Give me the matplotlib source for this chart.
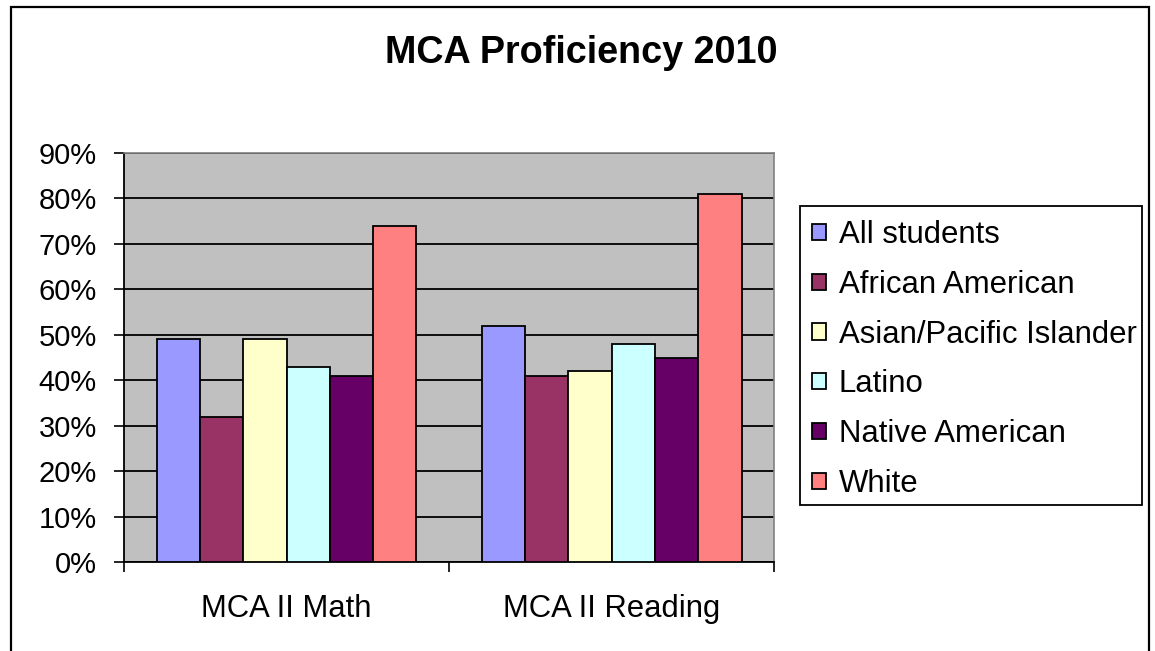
import matplotlib
matplotlib.use("Agg")
import matplotlib.pyplot as plt
from matplotlib.patches import Rectangle
import numpy as np

plt.rcParams['font.family'] = ['Liberation Sans', 'DejaVu Sans']

# data
tests = ["MCA II Math", "MCA II Reading"]
groups = ["All students", "African American", "Asian/Pacific Islander",
          "Latino", "Native American", "White"]
math_pct = [49, 32, 49, 43, 41, 74]
reading_pct = [52, 41, 42, 48, 45, 81]
colors = ["#9999FF", "#993366", "#FFFFCC", "#CCFFFF", "#660066", "#FF8080"]
yticks = [0, 10, 20, 30, 40, 50, 60, 70, 80, 90]

W, H = 1155, 651
fig = plt.figure(figsize=(W / 100, H / 100), dpi=100)
ax = fig.add_axes([124 / W, 1 - 562 / H, 650 / W, 409 / H])
ax.set_facecolor("#C0C0C0")

x = np.arange(len(tests))
bw = 0.8 / len(groups)
for i, g in enumerate(groups):
    vals = [math_pct[i], reading_pct[i]]
    ax.bar(x - 0.4 + bw * (i + 0.5), vals, width=bw, color=colors[i],
           edgecolor="black", linewidth=1.3, label=g, zorder=3)

ax.set_xlim(-0.5, 1.5)
ax.set_ylim(0, 90)
ax.set_yticks(yticks)
ax.set_yticklabels([f"{t}%" for t in yticks], fontsize=21)
ax.yaxis.grid(True, color="black", linewidth=1.3, zorder=1)
ax.set_axisbelow(True)
ax.tick_params(axis="y", direction="out", length=7.5, width=1.2, pad=12)

ax.set_xticks(x)
ax.set_xticklabels(tests, fontsize=22.3)
ax.set_xticks([-0.5, 0.5, 1.5], minor=True)
ax.tick_params(axis="x", which="major", length=0, pad=23)
ax.tick_params(axis="x", which="minor", direction="out", length=7.5, width=1.2)

for s in ["top", "right"]:
    ax.spines[s].set_color("#808080")
    ax.spines[s].set_linewidth(1.2)
for s in ["left", "bottom"]:
    ax.spines[s].set_color("black")
    ax.spines[s].set_linewidth(1.3)

fig.text(581 / W, 1 - 53 / H, "MCA Proficiency 2010", fontsize=27.2,
         fontweight="bold", ha="center", va="center")

# legend entries without frame, frame drawn separately (tighter right side)
leg = fig.legend(loc="upper left", bbox_to_anchor=(800 / W, 1 - 208 / H),
                 fontsize=22.4, frameon=False,
                 borderaxespad=0, borderpad=0.39, handlelength=0.43,
                 handleheight=0.43, handletextpad=0.42, labelspacing=0.635)
fig.patches.append(Rectangle((800 / W, 1 - 505 / H), 342 / W, 299 / H,
                             transform=fig.transFigure, fill=False,
                             edgecolor="black", linewidth=1.3))

# outer chart border
fig.patches.append(Rectangle((11 / W, -0.05), (1149 - 11) / W, 1.05 - 7 / H,
                             transform=fig.transFigure, fill=False,
                             edgecolor="black", linewidth=1.6))

fig.savefig("out.png", dpi=100, facecolor="white")
